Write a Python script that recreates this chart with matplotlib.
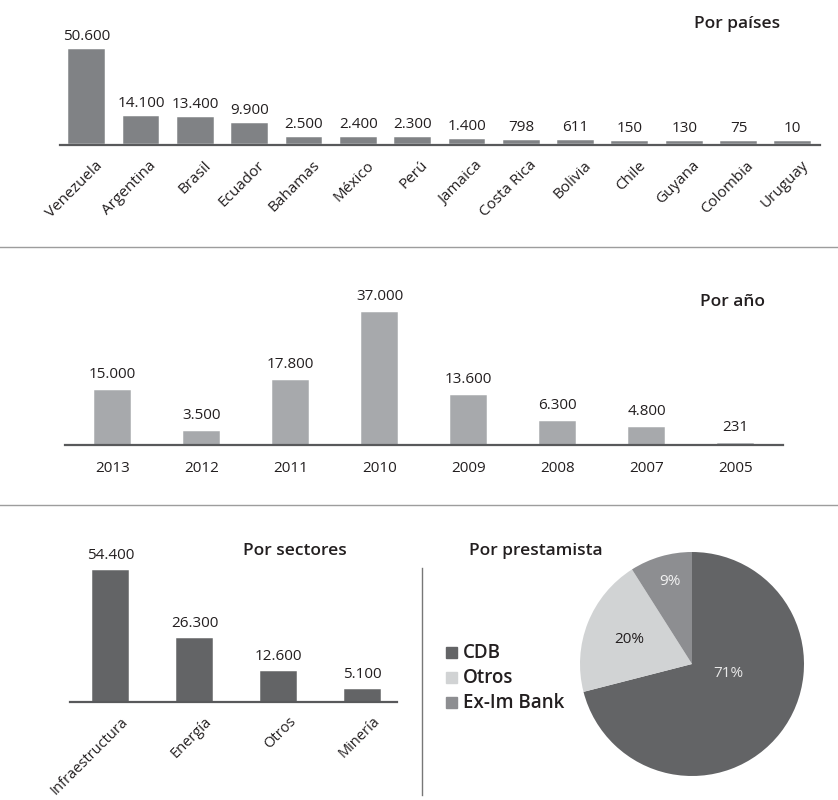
import numpy as np
import matplotlib.pyplot as plt
from matplotlib.patches import Rectangle
from matplotlib.lines import Line2D

paises = ['Venezuela', 'Argentina', 'Brasil', 'Ecuador', 'Bahamas', 'México', 'Perú',
          'Jamaica', 'Costa Rica', 'Bolivia', 'Chile', 'Guyana', 'Colombia', 'Uruguay']
montos_paises = [50600, 14100, 13400, 9900, 2500, 2400, 2300, 1400, 798, 611, 150, 130, 75, 10]

anios = ['2013', '2012', '2011', '2010', '2009', '2008', '2007', '2005']
montos_anios = [15000, 3500, 17800, 37000, 13600, 6300, 4800, 231]

sectores = ['Infraestructura', 'Energía', 'Otros', 'Minería']
montos_sectores = [54400, 26300, 12600, 5100]

prestamistas = ['CDB', 'Otros', 'Ex-Im Bank']
porcentajes = [71, 20, 9]

W, H = 838, 800
plt.rcParams['font.family'] = ['Open Sans', 'DejaVu Sans']
TEXTO = '#231f20'
LINEA = '#58595b'

fig = plt.figure(figsize=(W / 100, H / 100), dpi=100)


def ejes(izq, arriba, der, abajo):
    # pixeles con origen arriba a la izquierda
    return fig.add_axes([izq / W, 1 - abajo / H, (der - izq) / W, (abajo - arriba) / H])


def texto(x, y, s, **kw):
    fig.text(x / W, 1 - y / H, s, color=TEXTO, **kw)


def formato(v):
    return f'{v:,}'.replace(',', '.')


def barras(ax, nombres, valores, color, ancho, xlim, escala, hueco, sep_valor, rotar, dx_et, dy_et,
           tam_et=11):
    # escala: pixeles que ocupa la barra mas alta; hueco: pixeles entre la base y la linea
    alto = ax.get_position().height * H
    por_px = max(valores) / escala
    ybajo = -hueco * por_px
    x = np.arange(len(valores))
    ax.bar(x, valores, width=ancho, color=color, edgecolor=color, linewidth=1.1)
    ax.set_xlim(*xlim)
    ax.set_ylim(ybajo, ybajo + alto * por_px)
    ax.axis('off')
    ax.axhline(ybajo, color=LINEA, lw=1.6, clip_on=False)
    for xi, v, n in zip(x, valores, nombres):
        ax.annotate(formato(v), (xi, v), xytext=(0, sep_valor), textcoords='offset pixels',
                    ha='center', va='baseline', fontsize=11, color=TEXTO)
        if rotar:
            ax.annotate(n, (xi, ybajo), xytext=(dx_et, dy_et), textcoords='offset pixels',
                        ha='right', va='top', rotation=45, rotation_mode='anchor',
                        fontsize=tam_et, color=TEXTO)
        else:
            ax.annotate(n, (xi, ybajo), xytext=(0, dy_et), textcoords='offset pixels',
                        ha='center', va='center', fontsize=tam_et, color=TEXTO)


# Por paises
ax1 = ejes(60, 30, 820, 145)
barras(ax1, paises, montos_paises, '#808285', 0.64, (-0.49, 13.5),
       92.5, 2.5, 10, True, 8, -13)
texto(780, 28.5, 'Por países', ha='right', va='baseline', fontsize=12.5, fontweight='semibold')

# Por año
ax2 = ejes(65, 290, 783, 445)
barras(ax2, anios, montos_anios, '#a7a9ac', 0.39, (-0.534, 7.53),
       132.3, 0, 13, False, 0, -23)
texto(765, 306.5, 'Por año', ha='right', va='baseline', fontsize=12.5, fontweight='semibold')

# Por sectores
ax3 = ejes(70, 540, 397, 702)
barras(ax3, sectores, montos_sectores, '#636466', 0.42, (-0.482, 3.41),
       131, 0, 12, True, 10, -12, tam_et=10.5)
texto(243, 555, 'Por sectores', ha='left', va='baseline', fontsize=12.5, fontweight='semibold')

# Por prestamista
colores_pie = ['#636466', '#d1d3d4', '#8d8e91']
ax4 = ejes(580, 552, 804, 776)
ax4.pie(porcentajes, colors=colores_pie, startangle=90, counterclock=False, radius=1)
ax4.set_xlim(-1, 1)
ax4.set_ylim(-1, 1)
ax4.set_aspect('equal')
pct_r = [0.34, 0.6, 0.76]
pct_ang = [-15, 159, 105]
pct_col = ['#e8e8e8', TEXTO, '#f2f2f2']
for p, r, a, c in zip(porcentajes, pct_r, pct_ang, pct_col):
    t = np.deg2rad(a)
    ax4.text(r * np.cos(t), r * np.sin(t), f'{p}%', ha='center', va='center', fontsize=11, color=c)
texto(469, 555, 'Por prestamista', ha='left', va='baseline', fontsize=12.5, fontweight='semibold')

for i, (nombre, c) in enumerate(zip(prestamistas, colores_pie)):
    yc = 652 + 25 * i
    fig.add_artist(Rectangle((446 / W, 1 - (yc + 5.5) / H), 11 / W, 11 / H,
                             transform=fig.transFigure, color=c))
    texto(463, yc + 1, nombre, ha='left', va='center', fontsize=13.5, fontweight='semibold')

# separadores
for y in (247, 505):
    fig.add_artist(Line2D([0, 1], [1 - y / H, 1 - y / H], transform=fig.transFigure,
                          color='#9d9d9d', lw=1))
fig.add_artist(Line2D([422 / W, 422 / W], [1 - 568 / H, 1 - 795 / H], transform=fig.transFigure,
                      color='#777777', lw=1))

fig.savefig('out.png', dpi=100)
